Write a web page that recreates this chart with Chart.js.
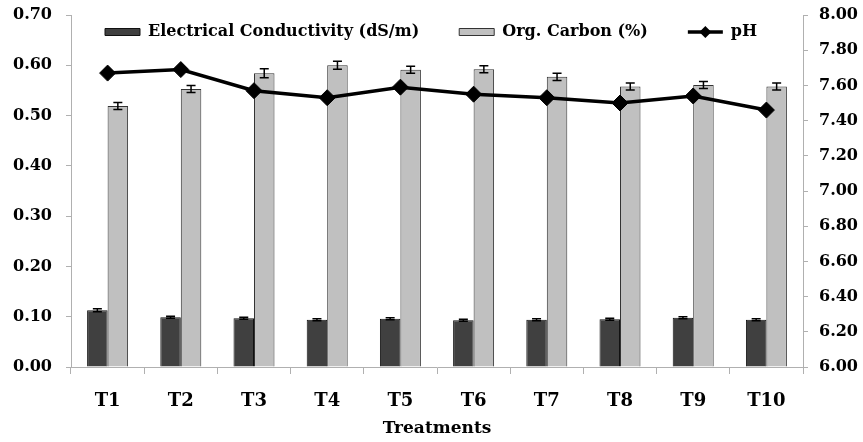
<!DOCTYPE html>
<html>
<head>
<meta charset="utf-8">
<script src="https://cdn.jsdelivr.net/npm/chart.js@4/dist/chart.umd.min.js"></script>
<style>
   html, body { margin: 0; padding: 0; background: #fff; }
   #wrap { width: 863px; height: 442px; }
</style>
</head>
<body>
<div id="wrap"><canvas id="soilChart" width="863" height="442"></canvas></div>
<script>
// values
const treatments = ["T1", "T2", "T3", "T4", "T5", "T6", "T7", "T8", "T9", "T10"];
const ecValues = [0.113, 0.099, 0.097, 0.094, 0.096, 0.093, 0.094, 0.095, 0.098, 0.094];
const ecErrors = [0.003, 0.002, 0.002, 0.002, 0.002, 0.002, 0.002, 0.002, 0.002, 0.002];
const ocValues = [0.519, 0.553, 0.584, 0.600, 0.591, 0.592, 0.577, 0.558, 0.561, 0.558];
const ocErrors = [0.007, 0.007, 0.009, 0.008, 0.007, 0.007, 0.007, 0.007, 0.007, 0.007];
const phValues = [7.67, 7.69, 7.57, 7.53, 7.59, 7.55, 7.53, 7.50, 7.54, 7.46];

const serif = "'DejaVu Serif', 'Liberation Serif', serif";
const axisGray = "#b0b0b0";

// error bars, drawn right after each bar dataset
const errorBars = {
   id: "errorBars",
   afterDatasetDraw(chart, args) {
      const ds = chart.data.datasets[args.index];
      if (!ds.errors) return;
      const meta = args.meta;
      const yScale = chart.scales[meta.yAxisID];
      const ctx = chart.ctx;
      ctx.save();
      ctx.strokeStyle = "#000";
      ctx.lineWidth = 1.5;
      meta.data.forEach((bar, i) => {
         const top = yScale.getPixelForValue(ds.data[i] + ds.errors[i]);
         const bottom = yScale.getPixelForValue(ds.data[i] - ds.errors[i]);
         ctx.beginPath();
         ctx.moveTo(bar.x, top);
         ctx.lineTo(bar.x, bottom);
         ctx.moveTo(bar.x - 4.5, top);
         ctx.lineTo(bar.x + 4.5, top);
         ctx.moveTo(bar.x - 4.5, bottom);
         ctx.lineTo(bar.x + 4.5, bottom);
         ctx.stroke();
      });
      ctx.restore();
   },
};

// legend sits inside the plot area; the pH item gets a line with a diamond
const legendInside = {
   id: "legendInside",
   afterLayout(chart) {
      const lg = chart.legend;
      lg.top = -16;
      lg.bottom = 70;
      lg.left = 65;
      lg.right = 863;
   },
   afterDraw(chart) {
      const boxes = chart.legend.legendHitBoxes;
      if (!boxes || boxes.length < 3) return;
      const hb = boxes[2];
      const cx = hb.left + 17.5;
      const cy = hb.top + hb.height / 2;
      const ctx = chart.ctx;
      ctx.save();
      ctx.strokeStyle = "#000";
      ctx.lineWidth = 3.5;
      ctx.beginPath();
      ctx.moveTo(hb.left, cy);
      ctx.lineTo(hb.left + 35, cy);
      ctx.stroke();
      ctx.fillStyle = "#000";
      ctx.beginPath();
      ctx.moveTo(cx, cy - 6);
      ctx.lineTo(cx + 6, cy);
      ctx.lineTo(cx, cy + 6);
      ctx.lineTo(cx - 6, cy);
      ctx.closePath();
      ctx.fill();
      ctx.restore();
   },
};

function fitSide(width) {
   return (scale) => {
      scale.width = width;
      scale.paddingTop = 0;
      scale.paddingBottom = 0;
   };
}

const ctx = document.getElementById("soilChart").getContext("2d");
new Chart(ctx, {
   type: "bar",
   data: {
      labels: treatments,
      datasets: [
         {
            label: "Electrical Conductivity (dS/m)",
            data: ecValues,
            errors: ecErrors,
            yAxisID: "y",
            backgroundColor: "#404040",
            borderColor: "#111",
            borderWidth: 1,
            order: 1,
         },
         {
            label: "Org. Carbon (%)",
            data: ocValues,
            errors: ocErrors,
            yAxisID: "y",
            backgroundColor: "#c0c0c0",
            borderColor: "#333",
            borderWidth: 1,
            order: 1,
         },
         {
            type: "line",
            label: "pH",
            data: phValues,
            yAxisID: "y1",
            borderColor: "#000",
            backgroundColor: "#000",
            borderWidth: 3.5,
            pointStyle: "rectRot",
            pointRadius: 8,
            pointBackgroundColor: "#000",
            pointBorderColor: "#000",
            pointBorderWidth: 1,
            tension: 0,
            order: 0,
         },
      ],
   },
   options: {
      responsive: false,
      animation: false,
      events: [],
      layout: { padding: { top: 15, left: 0, right: 0, bottom: 0 } },
      datasets: {
         bar: { categoryPercentage: 0.56, barPercentage: 1 },
      },
      plugins: {
         tooltip: { enabled: false },
         legend: {
            position: "top",
            align: "start",
            maxHeight: 0.01,
            labels: {
               color: "#000",
               font: { family: serif, size: 16, weight: "bold" },
               boxWidth: 35,
               boxHeight: 7,
               padding: 40,
               generateLabels(chart) {
                  return chart.data.datasets.map((ds, i) => ({
                     text: ds.label,
                     fillStyle: ds.type === "line" ? "rgba(0,0,0,0)" : ds.backgroundColor,
                     strokeStyle: ds.type === "line" ? "rgba(0,0,0,0)" : ds.borderColor,
                     lineWidth: 1,
                     hidden: false,
                     datasetIndex: i,
                     fontColor: "#000",
                  }));
               },
            },
         },
      },
      scales: {
         x: {
            afterFit(scale) {
               scale.height = 75;
            },
            grid: {
               drawOnChartArea: false,
               drawTicks: true,
               tickLength: 7,
               color: axisGray,
               offset: true,
            },
            border: { color: axisGray, width: 1 },
            ticks: {
               color: "#000",
               padding: 17,
               font: { family: serif, size: 18, weight: "bold" },
            },
            title: {
               display: true,
               text: "Treatments",
               color: "#000",
               font: { family: serif, size: 17, weight: "bold" },
               padding: { top: 0, bottom: 3 },
            },
         },
         y: {
            position: "left",
            min: 0,
            max: 0.7,
            afterFit: fitSide(71),
            grid: {
               drawOnChartArea: false,
               drawTicks: true,
               tickLength: 5,
               color: axisGray,
            },
            border: { color: axisGray, width: 1 },
            ticks: {
               stepSize: 0.1,
               color: "#000",
               padding: 14,
               font: { family: serif, size: 16, weight: "bold" },
               callback: (v) => Number(v).toFixed(2),
            },
         },
         y1: {
            position: "right",
            min: 6,
            max: 8,
            afterFit: fitSide(60),
            grid: {
               drawOnChartArea: false,
               drawTicks: true,
               tickLength: 5,
               color: axisGray,
            },
            border: { color: axisGray, width: 1 },
            ticks: {
               stepSize: 0.2,
               color: "#000",
               padding: 11,
               font: { family: serif, size: 16, weight: "bold" },
               callback: (v) => Number(v).toFixed(2),
            },
         },
      },
   },
   plugins: [errorBars, legendInside],
});
</script>
</body>
</html>
